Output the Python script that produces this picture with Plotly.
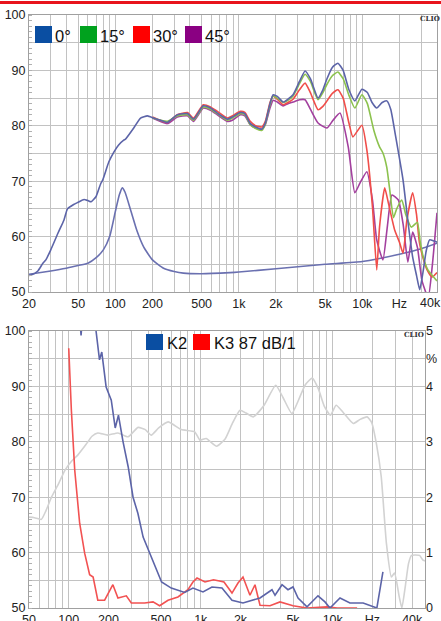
import plotly.graph_objects as go

# ---------------- DATA ----------------
# Top chart: frequency response (dB) at 0/15/30/45 deg, and impedance-like curve
f0 = [20, 21, 23.6, 25.9, 27.4, 30, 34.3, 38.4, 41, 46, 50, 55.8, 60, 63.7, 69.7, 76, 79, 88.7, 97.6,
      106, 117, 121, 141, 160, 182, 204, 232, 264, 318, 384, 430, 516, 590, 670, 750, 808, 888, 1030,
      1120, 1238, 1370, 1540, 1640, 1790, 1898, 2050, 2286, 2500, 2752, 3100, 3443, 3800, 4386, 4800,
      5180, 5700, 6350, 7000, 7800, 8710, 9930, 11000, 12000, 13100, 14500, 15800, 17000, 18500,
      21400, 23500, 25600, 27500, 29200, 31000, 33000, 35100, 38000, 40300]
db0 = [53.0, 53.1, 53.8, 55.2, 55.8, 57.6, 60.6, 63.0, 65.0, 65.8, 66.2, 66.7, 66.5, 66.3, 67.2, 69.5,
       70.2, 73.5, 75.3, 76.5, 77.4, 77.6, 79.6, 81.4, 81.8, 81.4, 81.0, 80.6, 82.0, 82.2, 81.2, 83.6,
       83.2, 82.3, 81.6, 81.2, 81.6, 82.4, 82.2, 80.4, 79.8, 79.4, 80.5, 84.0, 85.6, 85.3, 84.3, 84.8,
       85.6, 88.0, 89.9, 88.5, 85.0, 86.5, 88.5, 90.5, 91.3, 90.0, 86.5, 84.5, 86.6, 86.0, 84.2, 83.2,
       84.2, 84.5, 83.0, 78.5, 70.2, 62.5, 56.3, 53.0, 50.4, 53.5, 57.5, 59.4, 59.2, 59.0]

f15 = [200, 264, 318, 384, 430, 516, 590, 670, 808, 888, 1030, 1120, 1238, 1370, 1540, 1640, 1790,
       1898, 2050, 2286, 2500, 2752, 3100, 3443, 3800, 4386, 4800, 5180, 5700, 6350, 7000, 7800, 8710,
       9930, 11000, 12400, 13800, 14700, 15800, 16700, 17900, 19000, 20900, 22500, 25000, 27900, 29500,
       31200, 34000, 40300]
db15 = [81.4, 80.8, 81.8, 82.0, 81.0, 83.4, 83.0, 82.2, 81.0, 81.4, 82.2, 82.0, 80.2, 79.5, 79.2, 80.3,
        83.8, 85.4, 85.0, 84.2, 84.6, 85.4, 87.6, 89.3, 88.0, 84.7, 86.0, 87.5, 89.0, 89.7, 88.5, 85.5,
        83.2, 85.6, 84.0, 79.2, 76.2, 75.1, 72.5, 68.4, 63.4, 65.0, 66.6, 64.0, 61.7, 62.6, 59.0, 56.3,
        54.0, 52.0]

f30 = [200, 264, 318, 384, 430, 516, 590, 670, 808, 888, 1030, 1120, 1238, 1370, 1540, 1640, 1790,
       1898, 2050, 2286, 2500, 2752, 3100, 3443, 3800, 4386, 4800, 5180, 5700, 6350, 7000, 7800, 8400,
       9930, 10900, 12100, 13100, 13800, 15200, 16300, 18300, 20000, 21400, 23000, 25600, 27500, 29000,
       31200, 33500, 36800, 40300]
db30 = [81.6, 80.6, 82.0, 82.4, 81.4, 83.8, 83.4, 82.6, 81.4, 81.8, 82.6, 82.4, 80.8, 80.0, 79.8, 80.8,
        84.2, 85.4, 84.8, 83.8, 84.2, 84.8, 86.5, 87.7, 86.0, 82.9, 83.5, 84.5, 85.8, 86.5, 85.0, 80.5,
        78.0, 80.1, 75.6, 65.3, 54.0, 61.7, 68.8, 66.0, 61.2, 59.0, 57.0, 63.0, 67.9, 64.0, 59.0, 56.0,
        54.0, 52.7, 53.5]

f45 = [200, 264, 318, 384, 430, 516, 590, 670, 808, 888, 1030, 1120, 1238, 1370, 1540, 1640, 1790,
       1898, 2050, 2286, 2500, 2752, 3100, 3443, 3800, 4386, 5180, 5800, 6600, 7700, 8710, 9600, 10900,
       12100, 13100, 14700, 16000, 17400, 19600, 21500, 23400, 25600, 28000, 30500, 34200, 37000, 40300]
db45 = [81.4, 80.4, 81.6, 81.8, 80.8, 83.2, 82.8, 82.0, 80.8, 81.0, 82.0, 81.8, 80.2, 79.6, 79.4, 80.2,
        83.2, 84.6, 84.3, 83.6, 84.0, 84.3, 84.7, 84.7, 83.0, 80.5, 79.6, 81.0, 82.3, 76.2, 67.9, 69.7,
        71.7, 66.6, 59.4, 55.8, 62.0, 67.5, 66.6, 62.0, 55.4, 60.8, 58.0, 52.0, 49.0, 55.0, 64.3]

fimp = [20, 30, 40, 50, 60, 70, 80, 90, 100, 108, 114, 120, 133, 150, 170, 200, 246, 300, 356, 500,
        850, 1000, 2000, 5000, 10000, 20000, 30000, 40300]
dbimp = [53.2, 53.8, 54.3, 54.8, 55.2, 56.2, 57.6, 60.0, 64.5, 67.6, 68.8, 68.0, 64.8, 61.0, 58.1,
         55.8, 54.3, 53.7, 53.4, 53.3, 53.5, 53.6, 54.2, 55.0, 55.5, 56.8, 57.8, 58.8]

# Bottom chart: 0 deg response (grey, dB) and harmonic distortion K2 / K3 (%)
fgrey = [50, 55, 62, 67, 74, 84, 93.7, 105, 117, 135, 150, 166, 197, 236, 282, 335, 380, 422, 480, 566,
         712, 900, 987, 1100, 1320, 1530, 1750, 1985, 2200, 2500, 3000, 3700, 4200, 4900, 5500, 6200,
         7000, 7800, 8600, 9600, 10600, 12000, 14300, 16000, 18200, 19700, 21400, 23300, 25500, 27800,
         29400, 31900, 33400, 35500, 37500, 39500, 45500, 48000, 50000]
dbgrey = [66.4, 66.3, 66.0, 67.5, 70.0, 72.5, 74.9, 76.5, 77.6, 79.5, 81.0, 81.6, 81.2, 81.6, 80.9, 82.6,
          82.2, 81.2, 82.5, 83.6, 82.2, 81.8, 80.3, 80.6, 79.2, 80.5, 83.5, 85.7, 85.2, 84.5, 86.5, 90.2,
          88.0, 85.1, 87.5, 90.3, 91.5, 89.5, 86.5, 84.8, 86.6, 85.3, 83.3, 84.0, 84.5, 83.5, 79.7, 73.7,
          61.7, 55.6, 56.3, 52.0, 50.0, 54.0, 58.0, 59.5, 59.5, 58.7, 58.5]

fk2 = [100, 118, 124, 130, 150, 161, 171, 178, 192, 210, 225, 238, 258, 282, 307, 334, 366, 422, 505,
       598, 756, 873, 1040, 1216, 1449, 1725, 2090, 2812, 3465, 3654, 4130, 4580, 5000, 5460, 6384, 7730,
       8730, 9530, 11350, 13500, 17000, 21600, 24000]
pk2 = [6.0, 5.6, 4.92, 5.6, 5.8, 5.0, 4.48, 4.62, 3.99, 3.75, 3.25, 3.48, 3.0, 2.55, 2.0, 1.71, 1.28,
       0.92, 0.47, 0.36, 0.28, 0.36, 0.29, 0.38, 0.36, 0.14, 0.09, 0.18, 0.33, 0.23, 0.42, 0.33, 0.38,
       0.18, 0.02, 0.22, 0.11, 0.0, 0.18, 0.09, 0.09, 0.0, 0.65]

fk3 = [100, 104.7, 111, 121, 132, 144, 153, 166, 187, 216, 236, 273, 298, 376, 435, 488, 565, 672, 800,
       873, 937, 1077, 1250, 1500, 1725, 1916, 2090, 2360, 2576, 2812, 3347, 3985, 5000, 6384, 9060,
       10800, 15300]
pk3 = [4.69, 3.57, 2.49, 1.53, 0.99, 0.6, 0.56, 0.14, 0.14, 0.42, 0.18, 0.22, 0.09, 0.09, 0.11, 0.04,
       0.14, 0.2, 0.33, 0.47, 0.54, 0.47, 0.51, 0.47, 0.27, 0.45, 0.56, 0.23, 0.42, 0.05, 0.04, 0.11,
       0.04, 0.0, 0.02, 0.0, 0.0]

top_grid = [20, 30, 40, 50, 60, 70, 80, 90, 100, 200, 300, 400, 500, 600, 700, 800, 900, 1000, 2000,
            3000, 4000, 5000, 6000, 7000, 8000, 9000, 10000, 20000, 30000, 40000]
bot_grid = [50, 60, 70, 80, 90, 100, 200, 300, 400, 500, 600, 700, 800, 900, 1000, 2000, 3000, 4000,
            5000, 6000, 7000, 8000, 9000, 10000, 20000, 30000, 40000, 50000]
freq_labels = {20: "20", 50: "50", 100: "100", 200: "200", 500: "500", 1000: "1k", 2000: "2k",
               5000: "5k", 10000: "10k", 20000: "Hz", 40000: "40k"}
top_edge_label = "40k"
db_grid = [50, 55, 60, 65, 70, 75, 80, 85, 90, 95, 100]
pct_ticks = [0, 1, 2, 3, 4, 5]

legend_top = [("0°", "#0a4ea2"), ("15°", "#00a21e"), ("30°", "#ff0000"), ("45°", "#8a0082")]
legend_bot = [("K2", "#0a4ea2"), ("K3 87 dB/1", "#ff0000")]

# ---------------- FIGURE ----------------
W, H = 441, 621
def px(x):
    return x / W
def py(y):
    return 1 - y / H

fig = go.Figure()
ls = dict(shape="spline", smoothing=0.5)

fig.add_trace(go.Scatter(x=fimp, y=dbimp, mode="lines", line=dict(color="#6a70b0", width=1.6, **ls),
                         xaxis="x", yaxis="y"))
fig.add_trace(go.Scatter(x=f45, y=db45, mode="lines", line=dict(color="#a3409e", width=1.6, **ls),
                         xaxis="x", yaxis="y"))
fig.add_trace(go.Scatter(x=f30, y=db30, mode="lines", line=dict(color="#f04e4a", width=1.6, **ls),
                         xaxis="x", yaxis="y"))
fig.add_trace(go.Scatter(x=f15, y=db15, mode="lines", line=dict(color="#8cc24e", width=1.6, **ls),
                         xaxis="x", yaxis="y"))
fig.add_trace(go.Scatter(x=f0, y=db0, mode="lines", line=dict(color="#5c64a8", width=1.6, **ls),
                         xaxis="x", yaxis="y"))

fig.add_trace(go.Scatter(x=fgrey, y=dbgrey, mode="lines", line=dict(color="#d2d2d2", width=1.6, **ls),
                         xaxis="x2", yaxis="y2"))
fig.add_trace(go.Scatter(x=fk3, y=pk3, mode="lines", line=dict(color="#f25252", width=1.6),
                         xaxis="x2", yaxis="y3"))
fig.add_trace(go.Scatter(x=fk2, y=pk2, mode="lines", line=dict(color="#5c64a8", width=1.6),
                         xaxis="x2", yaxis="y3"))

tickfont = dict(family="Liberation Sans, Arial, sans-serif", size=12.5, color="#222222")
gridc = "#c2c2c2"
axline = dict(showline=True, linecolor="#a0a0a0", linewidth=1, mirror=True, ticks="", zeroline=False,
              showgrid=True, gridcolor=gridc, gridwidth=1, tickfont=tickfont, automargin=False)

fig.update_layout(
    width=W, height=H, margin=dict(l=0, r=0, t=0, b=0, autoexpand=False),
    paper_bgcolor="white", plot_bgcolor="white", showlegend=False,
    xaxis=dict(type="log", range=[1.30103, 4.6053], domain=[px(29), px(437)], anchor="y",
               tickmode="array", tickvals=top_grid,
               ticktext=[freq_labels.get(v, "") if v != 40000 else "" for v in top_grid], **axline),
    yaxis=dict(range=[50, 100], domain=[py(292), py(15)], anchor="x",
               tickmode="array", tickvals=db_grid,
               ticktext=[str(v) if v % 10 == 0 else "" for v in db_grid],
               minor=dict(ticks="inside", dtick=1, ticklen=3, tickcolor="#b0b0b0", showgrid=False),
               **axline),
    xaxis2=dict(type="log", range=[1.69897, 4.69897], domain=[px(29), px(425)], anchor="y2",
                tickmode="array", tickvals=bot_grid,
                ticktext=[freq_labels.get(v, "") for v in bot_grid], **axline),
    yaxis2=dict(range=[50, 100], domain=[py(608), py(331)], anchor="x2",
                tickmode="array", tickvals=db_grid,
                ticktext=[str(v) if v % 10 == 0 else "" for v in db_grid],
                minor=dict(ticks="inside", dtick=1, ticklen=3, tickcolor="#b0b0b0", showgrid=False),
                **axline),
    yaxis3=dict(range=[0, 5], overlaying="y2", side="right", anchor="x2",
                tickmode="array", tickvals=pct_ticks, ticktext=[str(v) for v in pct_ticks],
                showgrid=False, showline=False, ticks="", zeroline=False, tickfont=tickfont,
                automargin=False),
)

shapes = [dict(type="line", xref="paper", yref="paper", x0=0, x1=1, y0=py(2.5), y1=py(2.5),
               line=dict(color="#e8141c", width=3))]
annotations = []
lfont = dict(family="Liberation Sans, Arial, sans-serif", size=16.5, color="#111111")

tops_sq = [35, 80, 133, 185]
for (lab, col), x0 in zip(legend_top, tops_sq):
    shapes.append(dict(type="rect", xref="paper", yref="paper", x0=px(x0), x1=px(x0 + 17),
                       y0=py(43), y1=py(26), fillcolor=col, line=dict(width=0)))
    annotations.append(dict(text=lab, xref="paper", yref="paper", x=px(x0 + 18), y=py(35.5),
                            xanchor="left", yanchor="middle", showarrow=False, font=lfont))
bot_sq = [146, 193]
for (lab, col), x0 in zip(legend_bot, bot_sq):
    shapes.append(dict(type="rect", xref="paper", yref="paper", x0=px(x0), x1=px(x0 + 17),
                       y0=py(350), y1=py(334), fillcolor=col, line=dict(width=0)))
    annotations.append(dict(text=lab, xref="paper", yref="paper", x=px(x0 + 19), y=py(343),
                            xanchor="left", yanchor="middle", showarrow=False, font=lfont))

cfont = dict(family="DejaVu Serif, serif", size=7, color="#333333")
annotations.append(dict(text="<b>CLIO</b>", xref="paper", yref="paper", x=px(430), y=py(18.5),
                        xanchor="center", yanchor="middle", showarrow=False, font=cfont))
annotations.append(dict(text="<b>CLIO</b>", xref="paper", yref="paper", x=px(414), y=py(334.5),
                        xanchor="center", yanchor="middle", showarrow=False, font=cfont))
annotations.append(dict(text="%", xref="paper", yref="paper", x=px(431), y=py(359),
                        xanchor="center", yanchor="middle", showarrow=False, font=tickfont))
annotations.append(dict(text=top_edge_label, xref="paper", yref="paper", x=px(430), y=py(303),
                        xanchor="center", yanchor="middle", showarrow=False, font=tickfont))

fig.update_layout(shapes=shapes, annotations=annotations)
fig.write_html("out.html", config={"displayModeBar": False},
               post_script="document.body.style.margin='0px';document.body.style.overflow='hidden';")
